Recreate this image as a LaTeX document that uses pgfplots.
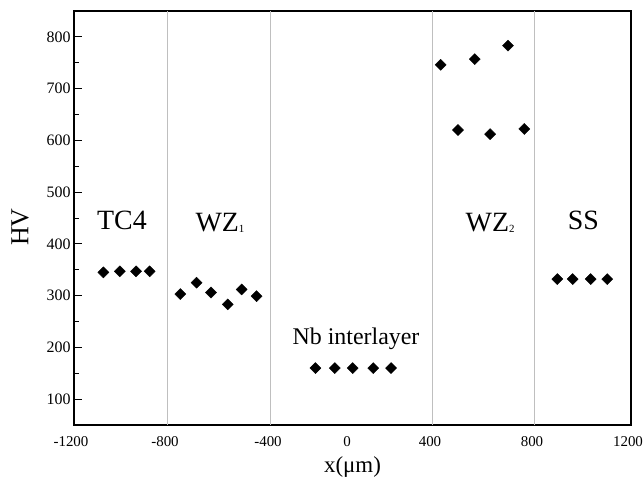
\documentclass[border=0pt]{standalone}
\usepackage{fontspec}
\setmainfont{Liberation Serif}
\usepackage{pgfplots}
\pgfplotsset{compat=1.18}
\begin{document}
\begin{tikzpicture}
\begin{axis}[
  name=ax,
  scale only axis, width=557bp, height=414bp,
  xmin=-1200, xmax=1200, ymin=50, ymax=850,
  x coord trafo/.code={\pgfmathparse{ifthenelse(#1<-800,(#1+1200)*0.235,ifthenelse(#1<-400,94+(#1+800)*0.2575,ifthenelse(#1<0,197+(#1+400)*0.1975,ifthenelse(#1<400,276+(#1)*0.2075,ifthenelse(#1<800,359+(#1-400)*0.255,461+(#1-800)*0.24)))))}},
  x coord inv trafo/.code={\pgfmathparse{ifthenelse(#1<94,(#1)/0.235-1200,ifthenelse(#1<197,(#1-94)/0.2575-800,ifthenelse(#1<276,(#1-197)/0.1975-400,ifthenelse(#1<359,(#1-276)/0.2075,ifthenelse(#1<461,(#1-359)/0.255+400,(#1-461)/0.24+800)))))}},
  axis line style={line width=1.2bp},
  tick pos=left, tick align=inside,
  xtick={-1200,-800,-400,0,400,800,1200},
  xticklabels={-1200,-800,-400,0,400,800,1200},
  xtick style={draw=none},
  extra x ticks={0}, extra x tick labels={},
  extra x tick style={tick style={draw=black, line width=0.9bp}},
  ytick={100,200,...,800},
  minor y tick num=1,
  major tick length=8bp, minor tick length=5bp,
  y tick style={line width=0.9bp, black},
  /pgf/number format/assume math mode=true,
  yticklabel style={font=\fontsize{16}{18}\selectfont},
  xticklabel style={font=\fontsize{15}{18}\selectfont, inner sep=0pt, xshift=-3bp, yshift=-11bp},
  xlabel={x(μm)}, ylabel={HV},
  xlabel style={font=\fontsize{23}{26}\selectfont, inner sep=0pt, yshift=-10bp},
  ylabel style={font=\fontsize{26}{28}\selectfont, at={(ticklabel cs:0.478)}, yshift=11bp},
  clip=false,
]
\addplot[black!25, line width=1bp, forget plot] coordinates {(-800,50) (-800,850)};
\addplot[black!25, line width=1bp, forget plot] coordinates {(-400,50) (-400,850)};
\addplot[black!25, line width=1bp, forget plot] coordinates {(400,50) (400,850)};
\addplot[black!25, line width=1bp, forget plot] coordinates {(800,50) (800,850)};
% TC4
\addplot[only marks, mark=square*, mark size=3.9bp, mark options={rotate=45, fill=black, draw=black}]
  coordinates {(-1075,345) (-1005,347) (-936,347) (-878,347)};
% WZ1
\addplot[only marks, mark=square*, mark size=3.9bp, mark options={rotate=45, fill=black, draw=black}]
  coordinates {(-752,303) (-689,325) (-633,306) (-568,283) (-514,312) (-456,299)};
% Nb interlayer
\addplot[only marks, mark=square*, mark size=3.9bp, mark options={rotate=45, fill=black, draw=black}]
  coordinates {(-175,160) (-77,160) (13,160) (112,160) (198,160)};
% WZ2
\addplot[only marks, mark=square*, mark size=3.9bp, mark options={rotate=45, fill=black, draw=black}]
  coordinates {(430,746) (498,620) (564,757) (624,612) (694,783) (758,622)};
% SS
\addplot[only marks, mark=square*, mark size=3.9bp, mark options={rotate=45, fill=black, draw=black}]
  coordinates {(893,332) (957,332) (1032,332) (1101,332)};
\node[anchor=base, font=\fontsize{28}{30}\selectfont] at (axis cs:-996,427) {TC4};
\node[anchor=base, font=\fontsize{28}{30}\selectfont] at (axis cs:-598,423) {WZ\raisebox{-1bp}{\fontsize{11}{11}\selectfont 1}};
\node[anchor=base, font=\fontsize{24}{26}\selectfont] at (axis cs:29,205) {Nb interlayer};
\node[anchor=base, font=\fontsize{28}{30}\selectfont] at (axis cs:624,423) {WZ\raisebox{-1bp}{\fontsize{11}{11}\selectfont 2}};
\node[anchor=base, font=\fontsize{28}{30}\selectfont] at (axis cs:1002,427) {SS};
\end{axis}
\path (ax.south west) ++(-74bp,-53bp);
\path (ax.north east) ++(13bp,11bp);
\end{tikzpicture}
\end{document}
